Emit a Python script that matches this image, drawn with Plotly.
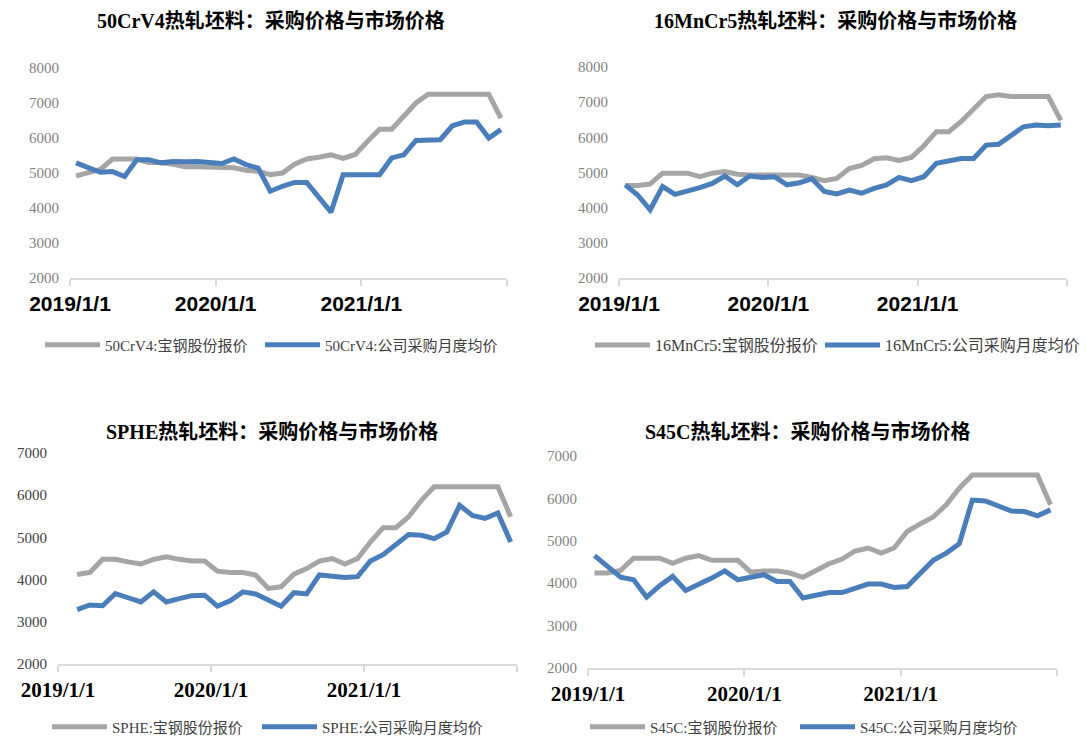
import plotly.graph_objects as go

months = [f"{y}/{m}" for y in (2019, 2020, 2021) for m in range(1, 13)]
year_ticks = ["2019/1/1", "2020/1/1", "2021/1/1", ""]

titles = ["50CrV4热轧坯料：采购价格与市场价格", "16MnCr5热轧坯料：采购价格与市场价格",
          "SPHE热轧坯料：采购价格与市场价格", "S45C热轧坯料：采购价格与市场价格"]
grades = ["50CrV4", "16MnCr5", "SPHE", "S45C"]

baosteel_50crv4 = [4920, 5020, 5100, 5400, 5400, 5400, 5300, 5300, 5250, 5180, 5180, 5180,
                   5150, 5150, 5080, 5050, 4950, 5000, 5250, 5400, 5450, 5520, 5420, 5530,
                   5900, 6250, 6250, 6600, 7000, 7250, 7250, 7250, 7250, 7250, 7250, 6570]
company_50crv4 = [5290, 5140, 5020, 5040, 4900, 5380, 5380, 5290, 5330, 5320, 5330, 5300,
                  5270, 5400, 5240, 5140, 4480, 4620, 4730, 4730, 4330, 3880, 4950, 4950,
                  4950, 4950, 5430, 5520, 5930, 5930, 5950, 6350, 6460, 6460, 6000, 6240]

baosteel_16mncr5 = [4630, 4630, 4670, 4980, 4980, 4980, 4880, 4980, 5030, 4950, 4930, 4930,
                    4910, 4930, 4930, 4860, 4770, 4830, 5110, 5200, 5390, 5420, 5340, 5430,
                    5760, 6160, 6160, 6450, 6830, 7160, 7210, 7160, 7160, 7160, 7160, 6480]
company_16mncr5 = [4650, 4360, 3940, 4600, 4380, 4460, 4570, 4690, 4900, 4650, 4900, 4860,
                   4880, 4650, 4710, 4820, 4460, 4390, 4500, 4410, 4550, 4650, 4860, 4770,
                   4880, 5260, 5330, 5400, 5400, 5780, 5800, 6030, 6300, 6350, 6330, 6350]

baosteel_sphe = [None, 4120, 4170, 4480, 4480, 4420, 4370, 4480, 4540, 4480, 4440, 4440,
                 4200, 4170, 4170, 4110, 3790, 3830, 4130, 4260, 4440, 4500, 4370, 4500,
                 4890, 5230, 5230, 5490, 5880, 6200, 6200, 6200, 6200, 6200, 6200, 5490]
company_sphe = [None, 3290, 3400, 3380, 3670, 3570, 3470, 3710, 3470, 3550, 3620, 3630,
                3370, 3500, 3710, 3660, 3510, 3370, 3690, 3660, 4110, 4080, 4050, 4070,
                4440, 4590, 4830, 5070, 5050, 4970, 5130, 5760, 5520, 5450, 5580, 4890]

baosteel_s45c = [4240, 4240, 4300, 4590, 4590, 4590, 4470, 4590, 4650, 4540, 4540, 4540,
                 4260, 4290, 4290, 4240, 4140, 4300, 4460, 4570, 4760, 4830, 4710, 4830,
                 5220, 5400, 5560, 5850, 6240, 6550, 6550, 6550, 6550, 6550, 6550, 5850]
company_s45c = [4650, 4410, 4140, 4080, 3670, 3940, 4160, 3830, 3960, 4120, 4290, 4080,
                4140, 4200, 4040, 4040, 3650, 3710, 3780, 3780, 3880, 3980, 3980, 3900,
                3920, 4240, 4540, 4710, 4930, 5960, 5940, 5820, 5700, 5690, 5590, 5730]

y_ranges = [[2000, 8000], [2000, 8000], [2000, 7000], [2000, 7000]]
y_ticks = [[2000, 3000, 4000, 5000, 6000, 7000, 8000]] * 2 + [[2000, 3000, 4000, 5000, 6000, 7000]] * 2
series = [(baosteel_50crv4, company_50crv4), (baosteel_16mncr5, company_16mncr5),
          (baosteel_sphe, company_sphe), (baosteel_s45c, company_s45c)]

W, H = 1086, 738
GREY = "#A5A5A5"
BLUE = "#4A7EBB"
SERIF = "Liberation Serif, Noto Sans CJK SC"

# pixel layouts: (x0, x1, ytop, ybottom)
boxes = [(70, 507, 68, 278), (619, 1067, 67, 278), (58, 517, 453, 664), (588, 1057, 456, 668)]
title_pos = [(271, 21), (835, 21), (272, 431), (808, 431)]
# legend item positions: (grey x, blue x, y)
legend_pos = [(40, 260, 345), (590, 820, 345), (47, 257, 727), (585, 795, 727)]
legend_sizes = [15, 16, 15, 15]
ytick_colors = ["#7F7F7F", "#7F7F7F", "#404040", "#7F7F7F"]
xtick_fonts = [dict(family="Liberation Sans", size=21, color="black", weight="bold"),
               dict(family="Liberation Sans", size=21, color="black", weight="bold"),
               dict(family="Liberation Serif", size=21, color="black", weight="bold"),
               dict(family="Liberation Serif", size=21, color="black", weight="bold")]

idx = list(range(len(months)))
fig = go.Figure()
layout = dict(width=W, height=H, margin=dict(l=0, r=0, t=0, b=0, autoexpand=False),
              paper_bgcolor="white", plot_bgcolor="white", showlegend=True,
              annotations=[])

for k in range(4):
    sfx = "" if k == 0 else str(k + 1)
    lg_a = "legend" if k == 0 else f"legend{2 * k + 1}"
    lg_b = f"legend{2 * k + 2}"
    b, c = series[k]
    fig.add_trace(go.Scatter(x=idx, y=b, mode="lines", name=f"{grades[k]}:宝钢股份报价",
                             line=dict(color=GREY, width=5), xaxis="x" + sfx, yaxis="y" + sfx,
                             legend=lg_a, hovertext=months))
    fig.add_trace(go.Scatter(x=idx, y=c, mode="lines", name=f"{grades[k]}:公司采购月度均价",
                             line=dict(color=BLUE, width=5), xaxis="x" + sfx, yaxis="y" + sfx,
                             legend=lg_b, hovertext=months))
    x0, x1, yt, yb = boxes[k]
    layout["xaxis" + sfx] = dict(domain=[x0 / W, x1 / W], range=[-0.5, 35.5],
                                 anchor="y" + sfx, tickmode="array", automargin=False,
                                 tickvals=[-0.5, 11.5, 23.5, 35.5], ticktext=year_ticks,
                                 showline=True, linecolor="#D9D9D9", linewidth=2,
                                 ticks="outside", ticklen=6, tickcolor="#D9D9D9",
                                 tickwidth=2, showgrid=False, zeroline=False,
                                 tickfont=xtick_fonts[k], fixedrange=True)
    layout["yaxis" + sfx] = dict(domain=[1 - yb / H, 1 - yt / H], range=y_ranges[k],
                                 anchor="x" + sfx, tickmode="array", tickvals=y_ticks[k],
                                 showline=False, showgrid=False, zeroline=False,
                                 ticks="", ticklabelstandoff=10, automargin=False,
                                 tickfont=dict(family="Liberation Serif", size=15,
                                               color=ytick_colors[k]))
    tx, ty = title_pos[k]
    layout["annotations"].append(dict(text=f"<b>{titles[k]}</b>", xref="paper", yref="paper",
                                      x=tx / W, y=1 - ty / H, xanchor="center", yanchor="middle",
                                      showarrow=False,
                                      font=dict(family=SERIF, size=20, color="black")))
    gx, bx, ly = legend_pos[k]
    for lg, lx in ((lg_a, gx), (lg_b, bx)):
        layout[lg] = dict(orientation="h", x=lx / W, y=1 - ly / H, xanchor="left",
                          yanchor="middle", xref="paper", yref="paper",
                          bgcolor="rgba(0,0,0,0)",
                          font=dict(family=SERIF, size=legend_sizes[k], color="#404040"),
                          itemwidth=55, itemclick=False, itemdoubleclick=False)

fig.update_layout(**layout)
fig.write_html("out.html", config={"displayModeBar": False},
               post_script="document.body.style.margin='0';document.body.style.overflow='hidden';")
